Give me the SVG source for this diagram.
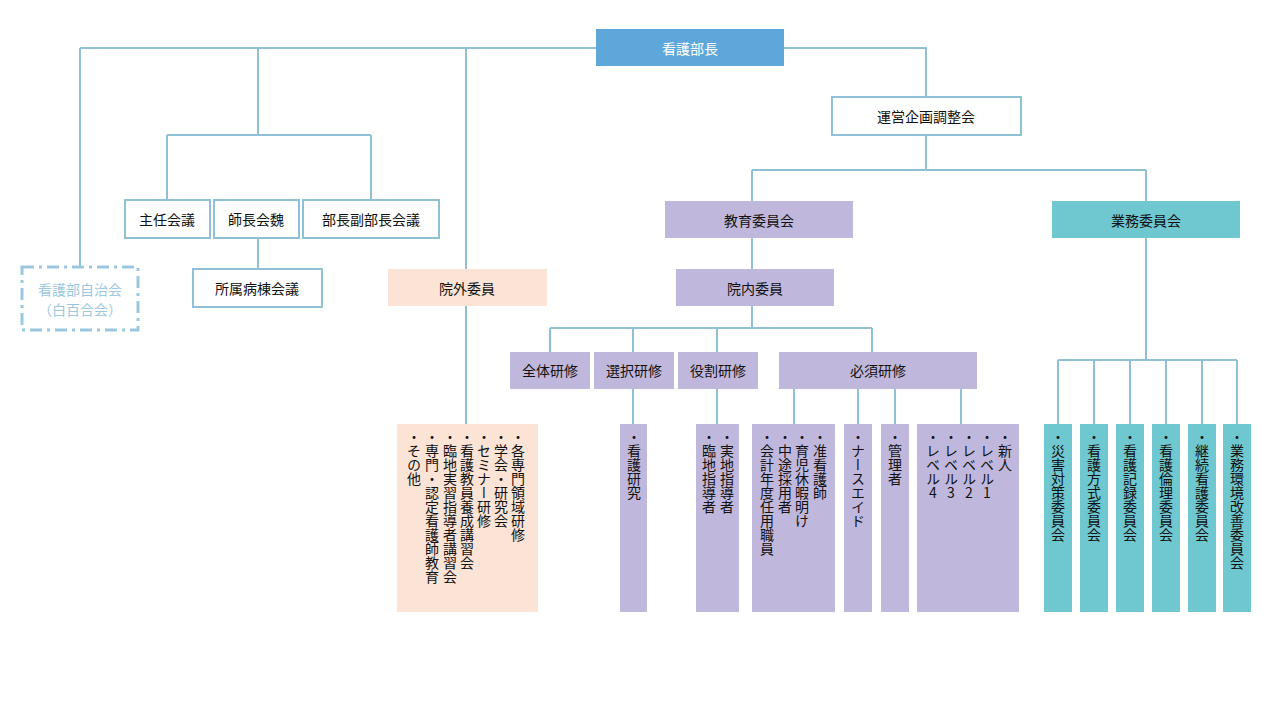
<svg xmlns="http://www.w3.org/2000/svg" width="1280" height="720" viewBox="0 0 1280 720">
<style>
text{font-family:"Noto Sans CJK JP","Noto Sans",sans-serif;font-size:14px;fill:#111}
.c{text-anchor:middle;dominant-baseline:central}
.v{writing-mode:vertical-rl;text-orientation:upright;font-size:14px}
.ln{stroke:#8fc0d6;stroke-width:2;fill:none}
.wb{fill:#fff;stroke:#8fc0d6;stroke-width:2}
.pu{fill:#c0b8dc}
.tq{fill:#6fc7d0}
.pk{fill:#fbe3d6}
</style>
<rect width="1280" height="720" fill="#fff"/>
<g id="connectors" class="ln">
<path d="M80 48H596M80 48V267M258 48V135M466 48V269M784 48H926V97"/>
<path d="M167 135H371M167 135V200M371 135V200M258 238V269"/>
<path d="M466 306V424"/>
<path d="M926 135V170M752 170H1146M752 170V201M1146 170V201M752 238V269"/>
<path d="M752 306V328M550 328H872M550 328V352M633 328V352M717 328V352M872 328V352"/>
<path d="M633 389V424M717 389V424M794 389V424M858 389V424M895 389V424M961 389V424"/>
<path d="M1146 238V360M1058 360H1237M1058 360V424M1094 360V424M1130 360V424M1166 360V424M1202 360V424M1237 360V424"/>
</g>
<g id="n-head"><rect x="596" y="29" width="188" height="37" fill="#5ea7da"/><text class="c" x="690" y="48" style="fill:#fff">看護部長</text></g>
<g id="n-unei"><rect class="wb" x="832" y="97" width="189" height="38"/><text class="c" x="926" y="116">運営企画調整会</text></g>
<g id="n-kyoiku"><rect class="pu" x="665" y="201" width="188" height="37"/><text class="c" x="759" y="220">教育委員会</text></g>
<g id="n-gyomu"><rect class="tq" x="1052" y="201" width="188" height="37"/><text class="c" x="1146" y="220">業務委員会</text></g>
<g id="n-innai"><rect class="pu" x="676" y="269" width="158" height="37"/><text class="c" x="755" y="288">院内委員</text></g>
<g id="n-ingai"><rect class="pk" x="388" y="269" width="159" height="37"/><text class="c" x="467" y="288">院外委員</text></g>
<g id="n-shunin"><rect class="wb" x="125" y="200" width="85" height="38"/><text class="c" x="167" y="219">主任会議</text></g>
<g id="n-shicho"><rect class="wb" x="214" y="200" width="85" height="38"/><text class="c" x="256" y="219">師長会魏</text></g>
<g id="n-bucho"><rect class="wb" x="303" y="200" width="136" height="38"/><text class="c" x="371" y="219">部長副部長会議</text></g>
<g id="n-shozoku"><rect class="wb" x="193" y="269" width="129" height="38"/><text class="c" x="257" y="288">所属病棟会議</text></g>
<g id="n-jichi"><rect x="22" y="267" width="116" height="63" fill="#fff" stroke="#9cc7e0" stroke-width="3" stroke-dasharray="12 5 3 5"/><text class="c" x="80" y="289" style="fill:#9cc7e0">看護部自治会</text><text class="c" x="80" y="309" style="fill:#9cc7e0">（白百合会）</text></g>
<g id="n-zentai"><rect class="pu" x="510" y="352" width="80" height="37"/><text class="c" x="550" y="370">全体研修</text></g>
<g id="n-sentaku"><rect class="pu" x="594" y="352" width="80" height="37"/><text class="c" x="634" y="370">選択研修</text></g>
<g id="n-yakuwari"><rect class="pu" x="678" y="352" width="80" height="37"/><text class="c" x="718" y="370">役割研修</text></g>
<g id="n-hissu"><rect class="pu" x="779" y="352" width="198" height="37"/><text class="c" x="878" y="370">必須研修</text></g>
<g id="b-ingai"><rect class="pk" x="397" y="424" width="141" height="188"/>
<text class="v" x="518" y="430">・各専門領域研修</text><text class="v" x="501" y="430">・学会・研究会</text><text class="v" x="484" y="430">・セミナー研修</text><text class="v" x="467" y="430">・看護教員養成講習会</text><text class="v" x="450" y="430">・臨地実習指導者講習会</text><text class="v" x="432" y="430">・専門・認定看護師教育</text><text class="v" x="414" y="430">・その他</text></g>
<g id="b-kenkyu"><rect class="pu" x="620" y="424" width="27" height="188"/><text class="v" x="634" y="430">・看護研究</text></g>
<g id="b-jitchi"><rect class="pu" x="696" y="424" width="43" height="188"/><text class="v" x="727" y="430">・実地指導者</text><text class="v" x="709" y="430">・臨地指導者</text></g>
<g id="b-junkan"><rect class="pu" x="752" y="424" width="83" height="188"/><text class="v" x="820" y="430">・准看護師</text><text class="v" x="802" y="430">・育児休暇明け</text><text class="v" x="785" y="430">・中途採用者</text><text class="v" x="767" y="430">・会計年度任用職員</text></g>
<g id="b-nurseaide"><rect class="pu" x="844" y="424" width="28" height="188"/><text class="v" x="858" y="430">・ナースエイド</text></g>
<g id="b-kanri"><rect class="pu" x="881" y="424" width="28" height="188"/><text class="v" x="895" y="430">・管理者</text></g>
<g id="b-level"><rect class="pu" x="917" y="424" width="102" height="188"/><text class="v" x="1005" y="430">・新人</text><text class="v" x="987" y="430">・レベル1</text><text class="v" x="969" y="430">・レベル2</text><text class="v" x="951" y="430">・レベル3</text><text class="v" x="933" y="430">・レベル4</text></g>
<g id="b-saigai"><rect class="tq" x="1044" y="424" width="28" height="188"/><text class="v" x="1058" y="430">・災害対策委員会</text></g>
<g id="b-hoshiki"><rect class="tq" x="1080" y="424" width="28" height="188"/><text class="v" x="1094" y="430">・看護方式委員会</text></g>
<g id="b-kiroku"><rect class="tq" x="1116" y="424" width="28" height="188"/><text class="v" x="1130" y="430">・看護記録委員会</text></g>
<g id="b-rinri"><rect class="tq" x="1152" y="424" width="28" height="188"/><text class="v" x="1166" y="430">・看護倫理委員会</text></g>
<g id="b-keizoku"><rect class="tq" x="1188" y="424" width="28" height="188"/><text class="v" x="1202" y="430">・継続看護委員会</text></g>
<g id="b-kankyo"><rect class="tq" x="1223" y="424" width="28" height="188"/><text class="v" x="1237" y="430">・業務環境改善委員会</text></g>
</svg>
